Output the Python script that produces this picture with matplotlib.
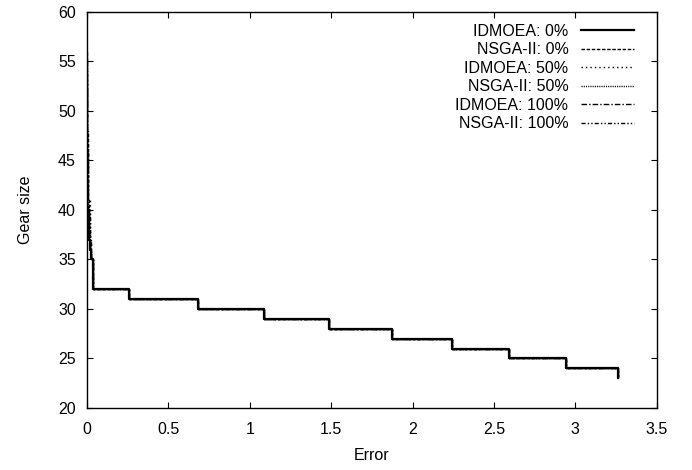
import matplotlib

matplotlib.use("Agg")
import matplotlib.pyplot as plt

# Shared Pareto staircase (error, gear size) visible to the right of x≈0.02
stair_error = [0.025, 0.038, 0.258, 0.68, 1.087, 1.487, 1.873, 2.24, 2.59, 2.94, 3.26]
stair_size = [35, 32, 31, 30, 29, 28, 27, 26, 25, 24, 23]

# Near-zero parts of each run (the tall vertical strip at error ≈ 0)
idmoea_0_error = [0.0, 0.001, 0.003, 0.012, 0.018]
idmoea_0_size = [53, 46, 40, 37, 36]
nsga_0_error = [0.0, 0.001, 0.004, 0.014, 0.02]
nsga_0_size = [56, 48, 41, 38, 36]
idmoea_50_error = [0.0, 0.002, 0.005, 0.016, 0.022]
idmoea_50_size = [55, 47, 41, 37, 36]
nsga_50_error = [0.0, 0.001, 0.004, 0.013, 0.021]
nsga_50_size = [54, 45, 39, 37, 36]
idmoea_100_error = [0.0, 0.001, 0.003, 0.015, 0.02]
idmoea_100_size = [52, 44, 39, 37, 36]
nsga_100_error = [0.0, 0.002, 0.005, 0.017, 0.023]
nsga_100_size = [55, 46, 40, 37, 36]

labels = [
    "IDMOEA: 0%",
    "NSGA-II: 0%",
    "IDMOEA: 50%",
    "NSGA-II: 50%",
    "IDMOEA: 100%",
    "NSGA-II: 100%",
]
near_errors = [idmoea_0_error, nsga_0_error, idmoea_50_error,
               nsga_50_error, idmoea_100_error, nsga_100_error]
near_sizes = [idmoea_0_size, nsga_0_size, idmoea_50_size,
              nsga_50_size, idmoea_100_size, nsga_100_size]

styles = [
    dict(linestyle="-", linewidth=1.6),
    dict(linestyle=(0, (2.5, 1.2)), linewidth=1.0),
    dict(linestyle=(0, (1, 2.2)), linewidth=1.0),
    dict(linestyle=(0, (0.8, 0.8)), linewidth=1.0),
    dict(linestyle=(0, (4, 1.5, 1, 1.5)), linewidth=1.0),
    dict(linestyle=(0, (3, 1.5, 1, 1.5, 1, 1.5)), linewidth=1.0),
]

FS = 11.5
plt.rcParams["font.family"] = ["Liberation Sans", "DejaVu Sans"]
plt.rcParams["font.size"] = FS

fig = plt.figure(figsize=(6.92, 4.70), dpi=100)
ax = fig.add_axes([0.1257, 0.132, 0.8233, 0.8425])

for label, errs, sizes, style in zip(labels, near_errors, near_sizes, styles):
    ax.plot(
        errs + stair_error,
        sizes + stair_size,
        drawstyle="steps-post",
        color="black",
        label=label,
        **style,
    )

ax.set_xlim(0, 3.5)
ax.set_ylim(20, 60)
ax.set_xticks([0, 0.5, 1, 1.5, 2, 2.5, 3, 3.5])
ax.set_xticklabels(["0", "0.5", "1", "1.5", "2", "2.5", "3", "3.5"])
ax.set_yticks(range(20, 61, 5))
ax.tick_params(direction="in", top=True, right=True, length=4, width=0.8,
               labelsize=FS)
ax.tick_params(axis="x", pad=10)
ax.tick_params(axis="y", pad=8)
for spine in ax.spines.values():
    spine.set_linewidth(1.0)

ax.set_xlabel("Error", fontsize=FS, labelpad=8)
ax.set_ylabel("Gear size", fontsize=FS, labelpad=18)

ax.legend(
    loc="upper right",
    bbox_to_anchor=(0.96, 0.97),
    frameon=False,
    markerfirst=False,
    handlelength=3.3,
    handletextpad=0.8,
    labelspacing=0.22,
    borderpad=0,
    borderaxespad=0,
    fontsize=FS,
)

fig.savefig("out.png", dpi=100, facecolor="white")
